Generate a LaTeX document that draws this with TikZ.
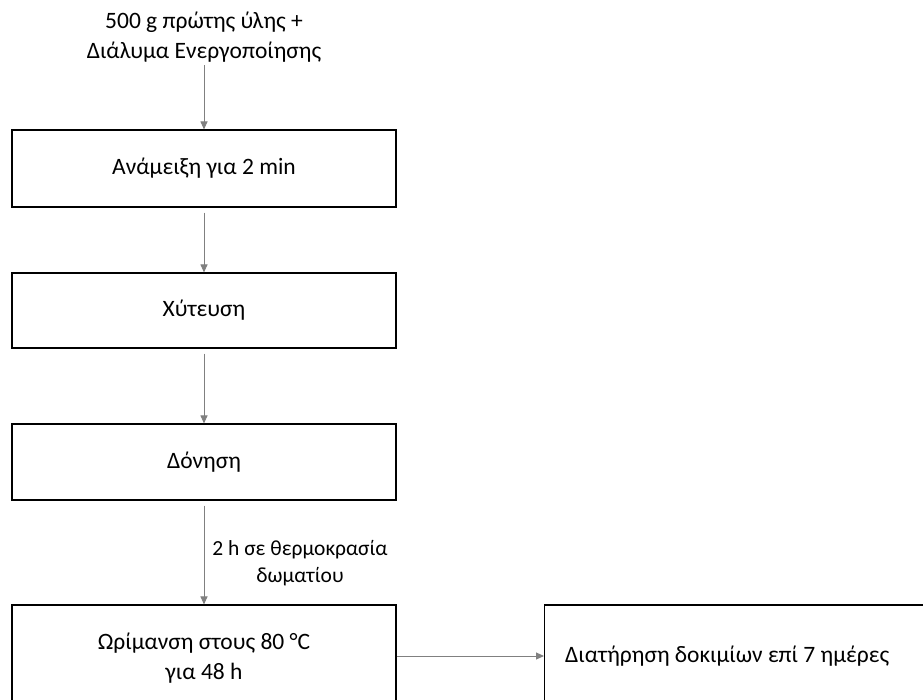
\documentclass[tikz,border=0pt]{standalone}
\usepackage{fontspec}
\setmainfont{Carlito}
\usetikzlibrary{arrows.meta}
\begin{document}
\begin{tikzpicture}[x=1pt,y=-1pt,
  every node/.style={font=\fontsize{23.5}{29.5}\selectfont, text=black},
  box/.style={draw=black, line width=1.1pt, minimum width=384pt, inner sep=0pt, align=center},
  conn/.style={draw=black!50, line width=1pt, -{Triangle[length=8pt,width=7pt]}, shorten <=5pt},
  lbl/.style={align=center, inner sep=0pt},
  smalllbl/.style={lbl, font=\fontsize{21.5}{27}\selectfont}]
\clip (0,0) rectangle (923,700);
\fill[white] (0,0) rectangle (923,700);
\node[lbl] (src) at (204,37) {500 g πρώτης ύλης +\\Διάλυμα Ενεργοποίησης};
\node[box, minimum height=77pt] (b1) at (204,168.5) {Ανάμειξη για 2 min};
\node[box, minimum height=75pt] (b2) at (204,310.5) {Χύτευση};
\node[box, minimum height=76pt] (b3) at (204,462) {Δόνηση};
\node[box, minimum height=106pt] (b4) at (204,658) {Ωρίμανση στους 80 °C\\για 48 h};
\node[box, minimum width=392pt, minimum height=102pt, anchor=west] (b5) at (544,656) {};
\node[lbl, anchor=west] (t5) at (565,656) {Διατήρηση δοκιμίων επί 7 ημέρες};
\node[smalllbl] (l4) at (300,563) {2 h σε θερμοκρασία\\δωματίου};
\draw[conn, shorten <=3pt] (src) -- (b1);
\draw[conn] (b1) -- (b2);
\draw[conn] (b2) -- (b3);
\draw[conn] (b3) -- (b4);
\draw[conn, shorten <=0pt] (b4.east |- b5.west) -- (b5.west);
\end{tikzpicture}
\end{document}
